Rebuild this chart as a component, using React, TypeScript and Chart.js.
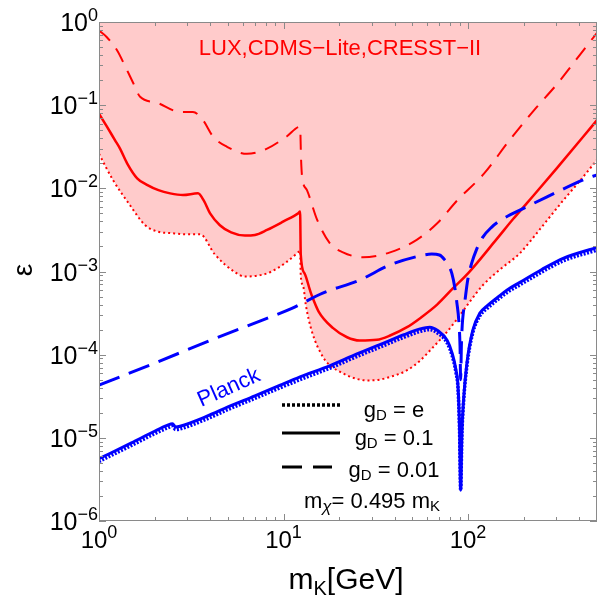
import React, { useEffect, useRef } from "react";
import { Chart, registerables } from "chart.js";

Chart.register(...registerables);

const FONT = '"Liberation Sans", Arial, sans-serif';

// ---- data (m_K in GeV, epsilon) ----
const redDottedM = [1, 1.19, 1.47, 1.78, 2.1, 2.43, 3.0, 3.53, 4.25, 5.46, 6.18, 7.2, 8.45, 10.2, 12.0, 12.3, 12.4, 12.8, 13.2, 14.2, 16.4, 18.2, 20.3, 24, 28.2, 33, 37.8, 46.8, 55, 64, 74, 88, 102, 120, 150, 191, 250, 327, 400, 500];
const redDottedEps = [2.6e-2, 1.26e-2, 6.3e-3, 3.6e-3, 3.0e-3, 2.9e-3, 2.8e-3, 2.8e-3, 1.6e-3, 9.8e-4, 8.7e-4, 8.9e-4, 9.8e-4, 1.26e-3, 1.7e-3, 1.78e-3, 8.9e-4, 6.6e-4, 4.0e-4, 1.95e-4, 9.3e-5, 7.2e-5, 6.2e-5, 5.25e-5, 4.9e-5, 5.0e-5, 5.4e-5, 6.5e-5, 8.5e-5, 1.2e-4, 1.7e-4, 2.75e-4, 4.3e-4, 6.8e-4, 1.07e-3, 1.66e-3, 3.4e-3, 7.1e-3, 1.2e-2, 2.2e-2];

const redSolidM = [1.0, 1.1, 1.22, 1.3, 1.42, 1.61, 1.82, 2.1, 2.43, 2.85, 3.44, 3.7, 4.0, 4.52, 5.2, 6.18, 7.0, 8.14, 10, 12.0, 12.3, 12.4, 13.0, 13.9, 14.3, 15.5, 18.5, 22.1, 25.9, 32.1, 37.8, 46.7, 55, 68, 83, 100, 144, 176, 208, 300, 500];
const redSolidEps = [7.9e-2, 5.6e-2, 3.8e-2, 3.0e-2, 2.0e-2, 1.32e-2, 1.1e-2, 9.5e-3, 8.7e-3, 8.3e-3, 8.7e-3, 7.1e-3, 5.0e-3, 3.6e-3, 2.95e-3, 2.7e-3, 2.75e-3, 3.16e-3, 4.0e-3, 5.0e-3, 5.25e-3, 1.6e-3, 9.5e-4, 6.0e-4, 5.0e-4, 3.3e-4, 2.1e-4, 1.62e-4, 1.48e-4, 1.51e-4, 1.7e-4, 2.14e-4, 2.75e-4, 4.0e-4, 6.3e-4, 9.5e-4, 2.5e-3, 4.3e-3, 6.6e-3, 1.7e-2, 6.6e-2];

const redDashedM = [1.0, 1.1, 1.25, 1.4, 1.53, 1.67, 2.06, 2.75, 3.23, 3.66, 4.15, 4.94, 6.34, 8.14, 10.4, 12.3, 12.45, 12.6, 13.4, 15.2, 17.8, 21.0, 26.9, 37.8, 52.7, 68.1, 87.6, 122, 168, 230, 304, 426, 500];
const redDashedEps = [0.79, 0.66, 0.46, 0.28, 0.186, 0.126, 0.107, 8.3e-2, 8.3e-2, 6.6e-2, 4.2e-2, 3.16e-2, 2.6e-2, 3.0e-2, 4.2e-2, 5.5e-2, 2.24e-2, 1.4e-2, 9.5e-3, 4.2e-3, 2.2e-3, 1.7e-3, 1.48e-3, 1.7e-3, 2.4e-3, 3.8e-3, 7.2e-3, 1.5e-2, 3.8e-2, 8.9e-2, 0.18, 0.47, 0.74];

const blueSolidM = [1.0, 1.5, 2.0, 2.34, 2.5, 2.6, 2.75, 3.85, 5.0, 7.0, 9.6, 12.3, 17.9, 25, 33.3, 45, 55, 62, 68.4, 77.1, 81.9, 86, 88.3, 90.0, 91.2, 92.6, 94.5, 98.6, 106, 116, 126, 145, 163, 191, 250, 330, 500];
const blueSolidEps = [5.6e-6, 8.7e-6, 1.2e-5, 1.41e-5, 1.48e-5, 1.35e-5, 1.38e-5, 1.82e-5, 2.35e-5, 3.2e-5, 4.3e-5, 5.4e-5, 7.4e-5, 1.02e-4, 1.32e-4, 1.74e-4, 2.04e-4, 2.14e-4, 1.95e-4, 1.48e-4, 1.05e-4, 6.6e-5, 4.1e-5, 1.26e-5, 2.35e-6, 1.12e-5, 2.8e-5, 7.9e-5, 1.95e-4, 3.16e-4, 3.8e-4, 4.9e-4, 6.0e-4, 7.4e-4, 1.05e-3, 1.45e-3, 1.95e-3];

const blueDottedM = [1.0, 1.5, 2.0, 2.34, 2.5, 2.6, 2.75, 3.85, 5.0, 7.0, 9.6, 12.3, 17.9, 25, 33.3, 45, 55, 62, 68.4, 77.1, 81.9, 86, 88.3, 90.0, 91.2, 92.6, 94.5, 98.6, 106, 116, 126, 145, 163, 191, 250, 330, 500];
const blueDottedEps = [5.2e-6, 8.1e-6, 1.12e-5, 1.31e-5, 1.38e-5, 1.26e-5, 1.28e-5, 1.69e-5, 2.19e-5, 2.98e-5, 4.0e-5, 5.0e-5, 6.9e-5, 9.5e-5, 1.23e-4, 1.62e-4, 1.9e-4, 2.0e-4, 1.82e-4, 1.38e-4, 9.8e-5, 6.1e-5, 3.8e-5, 1.17e-5, 2.35e-6, 1.04e-5, 2.6e-5, 7.3e-5, 1.81e-4, 2.94e-4, 3.55e-4, 4.6e-4, 5.6e-4, 6.9e-4, 9.8e-4, 1.35e-3, 1.81e-3];

const blueDashedM = [1.0, 2.0, 4.0, 8.0, 11.1, 16.3, 25.9, 37.8, 52.7, 63.6, 70, 74.8, 78, 81.7, 84.9, 87, 89.2, 90.5, 91.2, 92, 93, 94, 95.9, 99.6, 104.7, 111, 120, 134, 152, 200, 268, 442, 500];
const blueDashedEps = [4.3e-5, 7.9e-5, 1.48e-4, 2.7e-4, 3.6e-4, 5.5e-4, 7.9e-4, 1.2e-3, 1.51e-3, 1.62e-3, 1.58e-3, 1.38e-3, 1.2e-3, 9.5e-4, 6.3e-4, 4.2e-4, 2.5e-4, 1.26e-4, 5.0e-5, 1.26e-4, 2.24e-4, 3.0e-4, 4.2e-4, 7.9e-4, 1.26e-3, 1.82e-3, 2.57e-3, 3.4e-3, 4.2e-3, 5.75e-3, 7.9e-3, 1.32e-2, 1.45e-2];

// ---- axes ----
const xMin = 1;
const xMax = 500;
const yMin = 1e-6;
const yMax = 1;
const xMajorTicks = [1, 10, 100];
const xTickExponents = ["0", "1", "2"];
const xMinorTicks = [2, 3, 4, 5, 6, 7, 8, 9, 20, 30, 40, 50, 60, 70, 80, 90, 200, 300, 400];
const yMajorTicks = [1, 1e-1, 1e-2, 1e-3, 1e-4, 1e-5, 1e-6];
const yTickExponents = ["0", "\u22121", "\u22122", "\u22123", "\u22124", "\u22125", "\u22126"];
const yMinorMantissas = [2, 3, 4, 5, 6, 7, 8, 9];
const yMinorDecades = [1e-6, 1e-5, 1e-4, 1e-3, 1e-2, 1e-1];

const xTitle = ["m", "K", "[GeV]"];
const yTitle = "\u03B5";
const regionLabel = "LUX,CDMS\u2212Lite,CRESST\u2212II";
const planckLabel = "Planck";
const legendValues = ["e", "0.1", "0.01"];

const toPts = (m: number[], e: number[]) => m.map((v, i) => ({ x: v, y: e[i] }));

type Part = [string, number, number, boolean?];
function drawRich(ctx: CanvasRenderingContext2D, parts: Part[], x: number, y: number, align: string) {
  let total = 0;
  const widths: number[] = [];
  for (const p of parts) {
    ctx.font = `${p[3] ? "italic " : ""}${p[1]}px ${FONT}`;
    const w = ctx.measureText(p[0]).width;
    widths.push(w);
    total += w;
  }
  let cx = align === "center" ? x - total / 2 : align === "right" ? x - total : x;
  ctx.textAlign = "left";
  ctx.textBaseline = "alphabetic";
  parts.forEach((p, i) => {
    ctx.font = `${p[3] ? "italic " : ""}${p[1]}px ${FONT}`;
    ctx.fillText(p[0], cx, y + p[2]);
    cx += widths[i];
  });
}

const decorPlugin = {
  id: "decor",
  afterDraw(chart: any) {
    const { ctx, chartArea: a, scales } = chart;
    const xs = scales.x;
    const ys = scales.y;
    ctx.save();
    ctx.strokeStyle = "#8a8a8a";
    ctx.lineWidth = 1;
    ctx.setLineDash([]);
    ctx.strokeRect(a.left + 0.5, a.top + 0.5, a.right - a.left - 1, a.bottom - a.top - 1);
    const seg = (x1: number, y1: number, x2: number, y2: number) => {
      ctx.beginPath();
      ctx.moveTo(x1, y1);
      ctx.lineTo(x2, y2);
      ctx.stroke();
    };
    const xt = (v: number, len: number) => {
      const px = Math.round(xs.getPixelForValue(v)) + 0.5;
      seg(px, a.bottom, px, a.bottom - len);
      seg(px, a.top, px, a.top + len);
    };
    const yt = (v: number, len: number) => {
      const py = Math.round(ys.getPixelForValue(v)) + 0.5;
      seg(a.left, py, a.left + len, py);
      seg(a.right, py, a.right - len, py);
    };
    xMajorTicks.forEach((v) => xt(v, 7));
    xMinorTicks.forEach((v) => xt(v, 4));
    yMajorTicks.forEach((v) => yt(v, 7));
    yMinorDecades.forEach((d) => yMinorMantissas.forEach((m) => yt(m * d, 4)));

    ctx.fillStyle = "#000";
    xMajorTicks.forEach((v, i) => {
      const px = xs.getPixelForValue(v);
      drawRich(ctx, [["10", 24, 0], [xTickExponents[i], 18, -10]], px, 548, "center");
    });
    yMajorTicks.forEach((v, i) => {
      const py = ys.getPixelForValue(v);
      drawRich(ctx, [["10", 25, 0], [yTickExponents[i], 18, -10]], 98, py + 9, "right");
    });

    drawRich(ctx, [[xTitle[0], 30, 0], [xTitle[1], 20, 6], [xTitle[2], 30, 0]], 346, 589, "center");
    ctx.save();
    ctx.translate(32, 270);
    ctx.rotate(-Math.PI / 2);
    ctx.font = `28px ${FONT}`;
    ctx.textAlign = "center";
    ctx.textBaseline = "alphabetic";
    ctx.fillText(yTitle, 0, 0);
    ctx.restore();

    ctx.fillStyle = "#ff0000";
    ctx.font = `22px ${FONT}`;
    ctx.textAlign = "center";
    ctx.fillText(regionLabel, 340, 55);

    ctx.save();
    ctx.fillStyle = "#0000ff";
    ctx.translate(229, 388);
    ctx.rotate((-24 * Math.PI) / 180);
    ctx.font = `22px ${FONT}`;
    ctx.textAlign = "center";
    ctx.textBaseline = "middle";
    ctx.fillText(planckLabel, 0, 0);
    ctx.restore();

    ctx.strokeStyle = "#000";
    ctx.fillStyle = "#000";
    ctx.lineWidth = 3.5;
    ctx.setLineDash([3, 2]);
    seg(282, 405, 340, 405);
    ctx.lineWidth = 3;
    ctx.setLineDash([]);
    seg(282, 433, 340, 433);
    ctx.setLineDash([20, 11]);
    seg(282, 467, 332, 467);
    ctx.setLineDash([]);
    const baselines = [417, 445, 477];
    legendValues.forEach((val, i) => {
      drawRich(ctx, [["g", 22, 0], ["D", 15, 3], [" = " + val, 22, 0]], 394, baselines[i], "center");
    });
    drawRich(ctx, [["m", 22, 0], ["\u03C7", 17, 4, true], ["= 0.495 m", 22, 0], ["K", 15, 3]], 372, 508, "center");
    ctx.restore();
  },
};

export default function App() {
  const ref = useRef<HTMLCanvasElement | null>(null);
  useEffect(() => {
    if (!ref.current) return;
    const chart = new Chart(ref.current, {
      type: "line",
      data: {
        datasets: [
          { label: "blueSolid", data: toPts(blueSolidM, blueSolidEps), borderColor: "#0000ff", borderWidth: 3, fill: false },
          { label: "blueDotted", data: toPts(blueDottedM, blueDottedEps), borderColor: "#0000ff", borderWidth: 3.5, borderDash: [2, 1.5], fill: false },
          { label: "blueDashed", data: toPts(blueDashedM, blueDashedEps), borderColor: "#0000ff", borderWidth: 3, borderDash: [22, 10], fill: false },
          { label: "redSolid", data: toPts(redSolidM, redSolidEps), borderColor: "#ff0000", borderWidth: 2.5, fill: false },
          { label: "redDashed", data: toPts(redDashedM, redDashedEps), borderColor: "#ff0000", borderWidth: 2, borderDash: [15, 10], fill: false },
          { label: "redDotted", data: toPts(redDottedM, redDottedEps), borderColor: "#ff0000", borderWidth: 2, borderDash: [2, 3], fill: "end", backgroundColor: "rgb(255,203,203)" },
        ] as any,
      },
      options: {
        animation: false,
        responsive: false,
        layout: { padding: { top: 22, left: 0, right: 0, bottom: 0 } },
        elements: { point: { radius: 0 }, line: { cubicInterpolationMode: "monotone" } },
        scales: {
          x: {
            type: "logarithmic",
            min: xMin,
            max: xMax,
            ticks: { display: false },
            grid: { display: false },
            border: { display: false },
            afterFit: (s: any) => { s.height = 77; },
          },
          y: {
            type: "logarithmic",
            min: yMin,
            max: yMax,
            ticks: { display: false },
            grid: { display: false },
            border: { display: false },
            afterFit: (s: any) => { s.width = 99; },
          },
        },
        plugins: {
          legend: { display: false },
          tooltip: { enabled: false },
          filler: { drawTime: "beforeDatasetsDraw" },
        },
      } as any,
      plugins: [decorPlugin],
    });
    return () => chart.destroy();
  }, []);
  return (
    <div style={{ position: "fixed", left: 0, top: 0, width: 597, height: 598, background: "#fff" }}>
      <canvas ref={ref} width={597} height={598} />
    </div>
  );
}
